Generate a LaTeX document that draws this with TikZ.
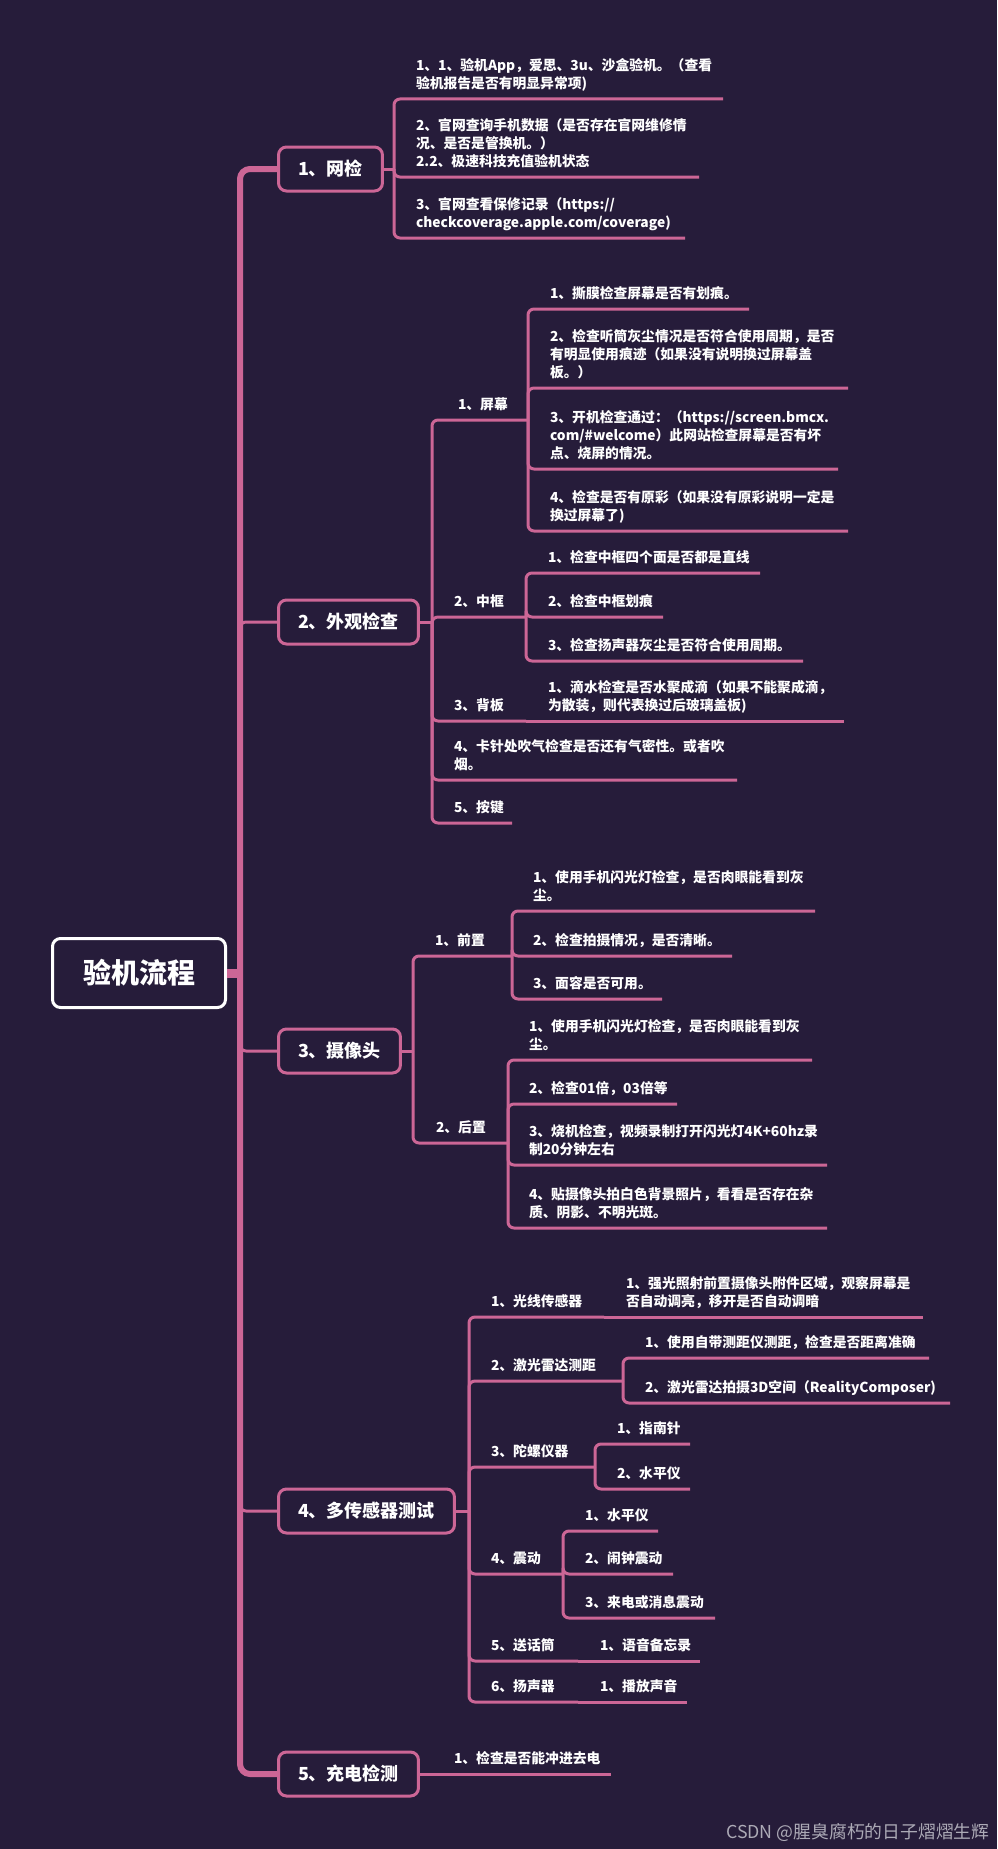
\documentclass[tikz,border=0pt]{standalone}
\usepackage{fontspec}
\setmainfont{Noto Sans CJK SC}
\definecolor{bgpurple}{RGB}{38,28,58}
\definecolor{mappink}{RGB}{204,102,150}
\definecolor{markgray}{RGB}{172,170,182}
\newcommand{\mapleaffont}{\bfseries\fontsize{13.8pt}{18pt}\selectfont}
\newcommand{\mapboxfont}{\bfseries\fontsize{18pt}{22pt}\selectfont}
\newcommand{\maprootfont}{\bfseries\fontsize{28pt}{32pt}\selectfont}

\begin{document}
\begin{tikzpicture}[x=1pt, y=-1pt,
    trunkline/.style={draw=mappink, line width=6pt, rounded corners=10pt},
    subline/.style={draw=mappink, line width=3pt, rounded corners=6pt},
    rootbox/.style={draw=white, line width=3pt, rounded corners=8pt, fill=bgpurple,
        text=white, font=\maprootfont, minimum width=173pt, minimum height=69pt},
    mainbox/.style={draw=mappink, line width=3pt, rounded corners=8pt, fill=bgpurple,
        text=white, font=\mapboxfont, inner xsep=19.5pt, minimum height=44pt, anchor=west},
    leaf/.style={anchor=south west, inner xsep=0pt, inner ysep=5.5pt, outer sep=0pt,
        text width=#1, align=left, text=white, font=\mapleaffont, execute at end node=\strut}]
    \useasboundingbox (0,0) rectangle (997,1849);
    \fill[bgpurple] (0,0) rectangle (997,1849);

    % Root and the five main boxes.
        \node[rootbox] (root) at (139,973) {验机流程};
        \node[mainbox] (b1) at (277,169) {1、网检};
        \node[mainbox] (b2) at (277,622) {2、外观检查};
        \node[mainbox] (b3) at (277,1051) {3、摄像头};
        \node[mainbox] (b4) at (277,1511) {4、多传感器测试};
        \node[mainbox] (b5) at (277,1774) {5、充电检测};
        \coordinate (tr) at (240,973);
        \draw[mappink, line width=9pt] (root.east) -- (tr);
        \draw[trunkline] (b1.west) -| (tr) |- (b5.west);
        \draw[subline] (tr) |- (b2.west);
        \draw[subline] (tr) |- (b3.west);
        \draw[subline] (tr) |- (b4.west);

    % 1、网检
        \node[leaf=307pt] (w1) at (416,99) {1、1、验机App，爱思、3u、沙盒验机。（查看\\验机报告是否有明显异常项)};
        \node[leaf=283pt] (w2) at (416,177) {2、官网查询手机数据（是否存在官网维修情\\况、是否是管换机。）\\2.2、极速科技充值验机状态};
        \node[leaf=269pt] (w3) at (416,238) {3、官网查看保修记录（https://\\checkcoverage.apple.com/coverage)};
        \coordinate (j1) at (394,169);
        \draw[subline] (b1.east) -- (j1);
        \foreach \n in {w1,w2,w3}
            \draw[subline] (j1) |- (\n.south east);

    % 2、外观检查
        \node[leaf=70pt] (s1) at (458,420) {1、屏幕};
        \node[leaf=199pt] (s11) at (550,309) {1、撕膜检查屏幕是否有划痕。};
        \node[leaf=298pt] (s12) at (550,388) {2、检查听筒灰尘情况是否符合使用周期，是否\\有明显使用痕迹（如果没有说明换过屏幕盖\\板。）};
        \node[leaf=288pt] (s13) at (550,469) {3、开机检查通过：（https://screen.bmcx.\\com/\#welcome）此网站检查屏幕是否有坏\\点、烧屏的情况。};
        \node[leaf=298pt] (s14) at (550,531) {4、检查是否有原彩（如果没有原彩说明一定是\\换过屏幕了)};
        \node[leaf=72pt] (s2) at (454,617) {2、中框};
        \node[leaf=212pt] (s21) at (548,573) {1、检查中框四个面是否都是直线};
        \node[leaf=115pt] (s22) at (548,617) {2、检查中框划痕};
        \node[leaf=255pt] (s23) at (548,661) {3、检查扬声器灰尘是否符合使用周期。};
        \node[leaf=72pt] (s3) at (454,721) {3、背板};
        \node[leaf=296pt] (s31) at (548,721) {1、滴水检查是否水聚成滴（如果不能聚成滴，\\为散装，则代表换过后玻璃盖板)};
        \node[leaf=283pt] (s4) at (454,780) {4、卡针处吹气检查是否还有气密性。或者吹\\烟。};
        \node[leaf=58pt] (s5) at (454,823) {5、按键};
        \coordinate (j2) at (432,622);
        \draw[subline] (b2.east) -- (j2);
        \foreach \n in {s1,s2,s3,s4,s5}
            \draw[subline] (j2) |- (\n.south east);
        \foreach \n in {s11,s12,s13,s14}
            \draw[subline] (s1.south east) |- (\n.south east);
        \foreach \n in {s21,s22,s23}
            \draw[subline] (s2.south east) |- (\n.south east);
        \draw[subline] (s3.south east) -- (s31.south east);

    % 3、摄像头
        \node[leaf=77pt] (f1) at (435,956) {1、前置};
        \node[leaf=282pt] (f11) at (533,911) {1、使用手机闪光灯检查，是否肉眼能看到灰\\尘。};
        \node[leaf=199pt] (f12) at (533,956) {2、检查拍摄情况，是否清晰。};
        \node[leaf=129pt] (f13) at (533,999) {3、面容是否可用。};
        \node[leaf=72pt] (f2) at (436,1143) {2、后置};
        \node[leaf=283pt] (f21) at (529,1060) {1、使用手机闪光灯检查，是否肉眼能看到灰\\尘。};
        \node[leaf=148pt] (f22) at (529,1104) {2、检查01倍，03倍等};
        \node[leaf=298pt] (f23) at (529,1165) {3、烧机检查，视频录制打开闪光灯4K+60hz录\\制20分钟左右};
        \node[leaf=298pt] (f24) at (529,1228) {4、贴摄像头拍白色背景照片，看看是否存在杂\\质、阴影、不明光斑。};
        \coordinate (j3) at (413,1051);
        \draw[subline] (b3.east) -- (j3);
        \foreach \n in {f1,f2}
            \draw[subline] (j3) |- (\n.south east);
        \foreach \n in {f11,f12,f13}
            \draw[subline] (f1.south east) |- (\n.south east);
        \foreach \n in {f21,f22,f23,f24}
            \draw[subline] (f2.south east) |- (\n.south east);

    % 4、多传感器测试
        \node[leaf=113pt] (g1) at (491,1317) {1、光线传感器};
        \node[leaf=297pt] (g11) at (626,1317) {1、强光照射前置摄像头附件区域，观察屏幕是\\否自动调亮，移开是否自动调暗};
        \node[leaf=132pt] (g2) at (491,1381) {2、激光雷达测距};
        \node[leaf=284pt] (g21) at (645,1358) {1、使用自带测距仪测距，检查是否距离准确};
        \node[leaf=305pt] (g22) at (645,1403) {2、激光雷达拍摄3D空间（RealityComposer)};
        \node[leaf=104pt] (g3) at (491,1467) {3、陀螺仪器};
        \node[leaf=73pt] (g31) at (617,1444) {1、指南针};
        \node[leaf=73pt] (g32) at (617,1489) {2、水平仪};
        \node[leaf=72pt] (g4) at (491,1574) {4、震动};
        \node[leaf=73pt] (g41) at (585,1531) {1、水平仪};
        \node[leaf=88pt] (g42) at (585,1574) {2、闹钟震动};
        \node[leaf=130pt] (g43) at (585,1618) {3、来电或消息震动};
        \node[leaf=87pt] (g5) at (491,1661) {5、送话筒};
        \node[leaf=100pt] (g51) at (600,1661) {1、语音备忘录};
        \node[leaf=87pt] (g6) at (491,1702) {6、扬声器};
        \node[leaf=87pt] (g61) at (600,1702) {1、播放声音};
        \coordinate (j4) at (469,1511);
        \draw[subline] (b4.east) -- (j4);
        \foreach \n in {g1,g2,g3,g4,g5,g6}
            \draw[subline] (j4) |- (\n.south east);
        \draw[subline] (g1.south east) -- (g11.south east);
        \foreach \n in {g21,g22}
            \draw[subline] (g2.south east) |- (\n.south east);
        \foreach \n in {g31,g32}
            \draw[subline] (g3.south east) |- (\n.south east);
        \foreach \n in {g41,g42,g43}
            \draw[subline] (g4.south east) |- (\n.south east);
        \draw[subline] (g5.south east) -- (g51.south east);
        \draw[subline] (g6.south east) -- (g61.south east);

    % 5、充电检测
        \node[leaf=157pt] (h1) at (454,1774) {1、检查是否能冲进去电};
        \draw[subline] (b5.east) -- (h1.south east);

    % Watermark.
        \node[anchor=base east, text=markgray, font=\fontsize{17.8pt}{20pt}\selectfont] (mark) at (993,1838) {CSDN @腥臭腐朽的日子熠熠生辉};
\end{tikzpicture}
\end{document}
